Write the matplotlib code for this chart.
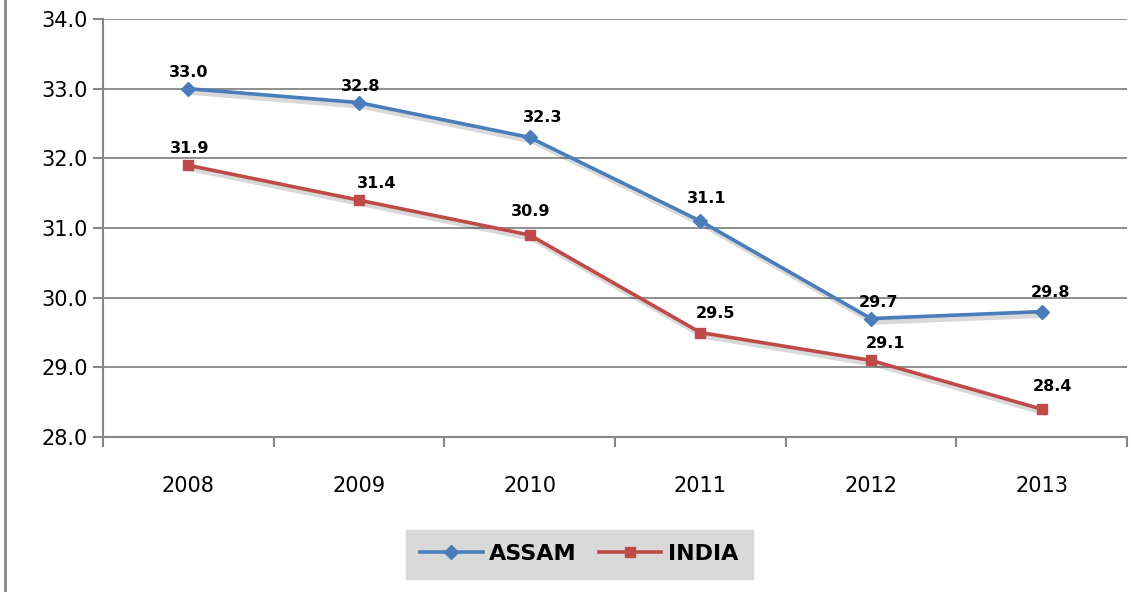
import numpy as np
import matplotlib.pyplot as plt
import matplotlib.patheffects as pe
from matplotlib.lines import Line2D

years = ['2008', '2009', '2010', '2011', '2012', '2013']
assam = [33.0, 32.8, 32.3, 31.1, 29.7, 29.8]
india = [31.9, 31.4, 30.9, 29.5, 29.1, 28.4]

# label offsets in pixels (style only)
assam_off = [(0, 16), (2, 16), (13, 20), (6, 23), (8, 16), (9, 19)]
india_off = [(1, 17), (18, 17), (1, 23), (15, 19), (15, 17), (11, 23)]

blue = '#4a7ebb'
red = '#be4b48'
grey = '#868686'

fig = plt.figure(figsize=(11.41, 5.92), dpi=100)
ax = fig.add_axes([0.0903, 0.2618, 0.8974, 0.7061])
x = np.arange(len(years))

# soft shadow under the lines
shadow = [pe.SimpleLineShadow(offset=(2, -2.5), alpha=0.15, shadow_color='k', linewidth=4)]
ax.plot(x, assam, color=blue, lw=2.6, path_effects=shadow, alpha=0)
ax.plot(x, india, color=red, lw=2.6, path_effects=shadow, alpha=0)

l1, = ax.plot(x, assam, color=blue, lw=2.6, marker='D', ms=7, label='ASSAM')
l2, = ax.plot(x, india, color=red, lw=2.6, marker='s', ms=7, label='INDIA')

for i in range(len(x)):
    ax.annotate(f'{assam[i]:.1f}', (x[i], assam[i]), xytext=assam_off[i], textcoords='offset pixels',
                ha='center', va='center', fontsize=11.5, fontweight='bold')
    ax.annotate(f'{india[i]:.1f}', (x[i], india[i]), xytext=india_off[i], textcoords='offset pixels',
                ha='center', va='center', fontsize=11.5, fontweight='bold')

ax.set_xlim(-0.5, 5.5)
ax.set_ylim(28, 34)
ax.set_yticks(np.arange(28, 34.1, 1))
ax.set_yticklabels([f'{v:.1f}' for v in np.arange(28, 34.1, 1)])
ax.set_xticks(x)
ax.set_xticklabels(years)
ax.set_xticks(np.arange(-0.5, 5.6, 1), minor=True)
ax.tick_params(axis='x', which='major', length=0, pad=28, labelsize=15)
ax.tick_params(axis='x', which='minor', length=7, color=grey, width=1.5)
ax.tick_params(axis='y', length=7, color=grey, width=1.5, labelsize=15, pad=4)
ax.grid(axis='y', color=grey, lw=1.3)
ax.set_axisbelow(True)
for s in ['top', 'right']:
    ax.spines[s].set_visible(False)
for s in ['left', 'bottom']:
    ax.spines[s].set_color(grey)
    ax.spines[s].set_linewidth(1.5)

leg = fig.legend(handles=[l1, l2], loc='center', ncol=2, frameon=True,
                 prop={'weight': 'bold', 'size': 16}, handlelength=2.8, columnspacing=1.0,
                 handletextpad=0.3, fancybox=False, borderpad=0.65, borderaxespad=0)
leg.set_bbox_to_anchor((0.5077, 0.064), transform=fig.transFigure)
leg.get_frame().set_facecolor('#d9d9d9')
leg.get_frame().set_edgecolor('#d9d9d9')
leg.get_frame().set_alpha(1)

fig.add_artist(Line2D([0.004, 0.004], [0, 1], color=grey, lw=2, transform=fig.transFigure))

fig.savefig('out.png', dpi=100)
